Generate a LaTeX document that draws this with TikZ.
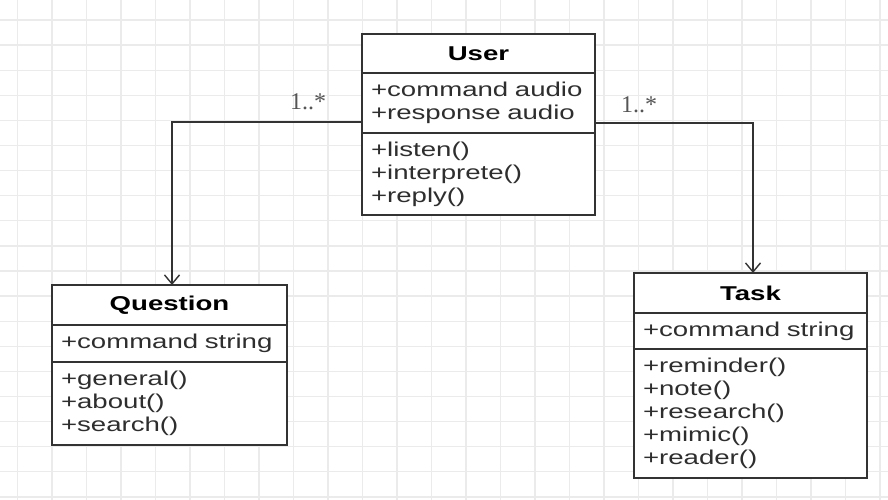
\documentclass[tikz,border=0pt]{standalone}
\usepackage{fontspec}
\newfontfamily\umlfont[FakeStretch=1.38]{Liberation Sans}
\newfontfamily\multfont{Liberation Serif}
\usetikzlibrary{positioning,arrows.meta}
\definecolor{boxline}{HTML}{333333}
\definecolor{textgray}{HTML}{2E2E2E}
\definecolor{gridgray}{HTML}{EBEBEB}
\definecolor{multgray}{HTML}{555555}
\tikzset{
  umlbox/.style={draw=boxline, line width=1.6pt, fill=white, outer sep=0pt,
    inner xsep=9pt, inner ysep=0pt},
  umltitle/.style={umlbox, align=center, text=black,
    font=\umlfont\bfseries\fontsize{20}{23}\selectfont},
  umlpart/.style={umlbox, align=left, text=textgray,
    font=\umlfont\fontsize{20}{23}\selectfont},
  assoc/.style={draw=boxline, line width=1.6pt,
    -{Straight Barb[length=9pt,width=15pt,line width=1.4pt]}},
  mult/.style={text=multgray, font=\multfont\fontsize{24}{26}\selectfont, inner sep=0pt},
  gridline/.style={draw=gridgray, line width=1.3pt}
}
\begin{document}
\begin{tikzpicture}[x=1pt,y=-1pt]  % ------ class diagram : User, Question, Task ------
    \useasboundingbox (0,0) rectangle (888,500);
    \fill[white] (0,0) rectangle (888,500);
    % background grid
    \foreach \gx in {0,...,25} \draw[gridline] (17.5+34.5*\gx,0) -- (17.5+34.5*\gx,500);
    \foreach \gy in {0,...,19} \draw[gridline] (0,20+25.1*\gy) -- (888,20+25.1*\gy);

    % User
    \node[umltitle, text width=215pt, minimum height=39pt, anchor=north west] (user) at (362,34) {User};
    \node[umlpart, text width=215pt, minimum height=60pt, below=0pt of user] (user-attr)
        {+command audio\\+response audio};
    \node[umlpart, text width=215pt, minimum height=82pt, below=0pt of user-attr] (user-ops)
        {+listen()\\+interprete()\\+reply()};

    % Question
    \node[umltitle, text width=217pt, minimum height=40pt, anchor=north west] (question) at (52,285) {Question};
    \node[umlpart, text width=217pt, minimum height=37pt, below=0pt of question] (question-attr)
        {+command string};
    \node[umlpart, text width=217pt, minimum height=83pt, below=0pt of question-attr] (question-ops)
        {+general()\\+about()\\+search()};

    % Task
    \node[umltitle, text width=215pt, minimum height=40pt, anchor=north west] (task) at (634,273) {Task};
    \node[umlpart, text width=215pt, minimum height=36pt, below=0pt of task] (task-attr)
        {+command string};
    \node[umlpart, text width=215pt, minimum height=129pt, below=0pt of task-attr] (task-ops)
        {+reminder()\\+note()\\+research()\\+mimic()\\+reader()};

    % associations
    \coordinate (uq) at ([yshift=11pt]user-attr.south west);
    \coordinate (ut) at ([yshift=10pt]user-attr.south east);
    \draw[assoc] (uq) -| ([xshift=2.5pt]question.north);
    \draw[assoc] (ut) -| ([xshift=2.5pt]task.north);
    \node[mult, anchor=base] (qmult) at ([xshift=-54pt,yshift=12pt]uq) {1..*};
    \node[mult, anchor=base] (tmult) at ([xshift=44pt,yshift=10pt]ut) {1..*};
\end{tikzpicture}
\end{document}
